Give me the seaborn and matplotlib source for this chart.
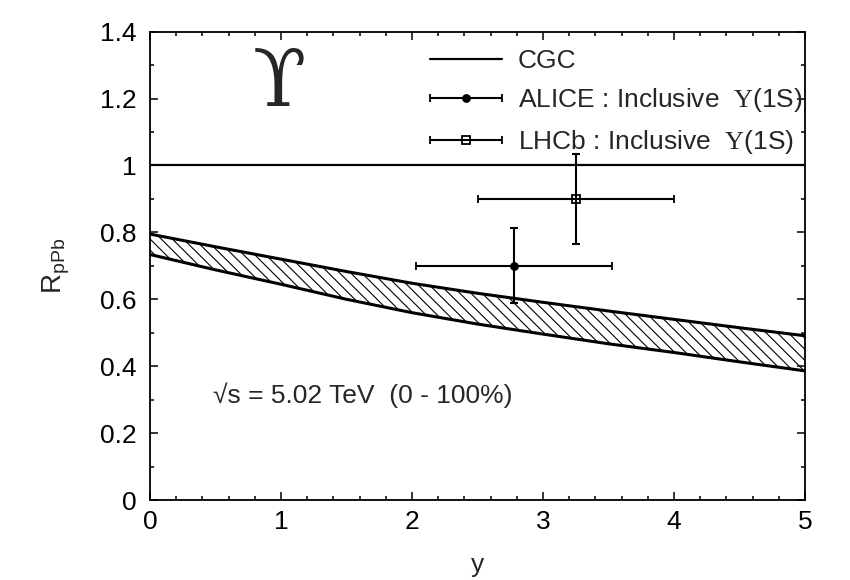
import numpy as np
import pandas as pd
import matplotlib
matplotlib.use("Agg")
import matplotlib.pyplot as plt
import seaborn as sns
from matplotlib.ticker import MultipleLocator, FuncFormatter
from matplotlib.container import ErrorbarContainer
from matplotlib.legend_handler import HandlerErrorbar

# ---------------- data ----------------
band_x = [0.0, 0.5, 1.0, 1.5, 2.0, 2.5, 3.0, 3.5, 4.0, 4.5, 5.0]
band_upper = [0.795, 0.757, 0.720, 0.683, 0.648, 0.618, 0.591, 0.565, 0.540, 0.515, 0.491]
band_lower = [0.734, 0.688, 0.645, 0.600, 0.560, 0.526, 0.496, 0.467, 0.441, 0.413, 0.386]

cgc_x = [0.0, 5.0]
cgc_r = [1.0, 1.0]

alice_y = [2.78]
alice_r = [0.70]
alice_xlo = [2.03]
alice_xhi = [3.53]
alice_err = [0.112]

lhcb_y = [3.25]
lhcb_r = [0.90]
lhcb_xlo = [2.50]
lhcb_xhi = [4.00]
lhcb_err = [0.134]

x_ticks = [0, 1, 2, 3, 4, 5]
y_ticks = [0, 0.2, 0.4, 0.6, 0.8, 1.0, 1.2, 1.4]

# ---------------- style ----------------
sns.set_style("ticks")
plt.rcParams["font.family"] = ["Liberation Sans", "DejaVu Sans"]
plt.rcParams["mathtext.fontset"] = "custom"
plt.rcParams["mathtext.rm"] = "Liberation Serif"
plt.rcParams["mathtext.sf"] = "Liberation Sans"
plt.rcParams["mathtext.it"] = "Liberation Sans:italic"
plt.rcParams["hatch.linewidth"] = 0.8

FS = 19

fig = plt.figure(figsize=(8.5, 5.8), dpi=100)
ax = fig.add_axes([150 / 850, 1 - 500 / 580, 655 / 850, (500 - 31.7) / 580])

df = pd.DataFrame({"y": band_x, "upper": band_upper, "lower": band_lower})

# hatched band
ax.fill_between(df["y"], df["lower"], df["upper"], facecolor="none",
                edgecolor="black", hatch="\\\\\\", linewidth=0)
sns.lineplot(data=df, x="y", y="upper", ax=ax, color="black", lw=2.2)
sns.lineplot(data=df, x="y", y="lower", ax=ax, color="black", lw=2.2)

# CGC line
cgc_line, = ax.plot(cgc_x, cgc_r, color="black", lw=1.6, label="CGC")

# data points
def draw_point(xs, rs, xlo, xhi, err, marker, mfc, ms, label):
    xs = np.array(xs); rs = np.array(rs)
    xerr = np.array([xs - np.array(xlo), np.array(xhi) - xs])
    ax.errorbar(xs, rs, yerr=np.array(err), fmt="none", ecolor="black",
                elinewidth=1.5, capsize=3.2, capthick=1.5)
    c = ax.errorbar(xs, rs, xerr=xerr, fmt=marker, color="black", mfc=mfc,
                    mec="black", ms=ms, mew=1.3, ecolor="black",
                    elinewidth=1.5, capsize=3.2, capthick=1.5, label=label)
    return c

c_alice = draw_point(alice_y, alice_r, alice_xlo, alice_xhi, alice_err,
                     "o", "black", 5, r"ALICE : Inclusive  $\Upsilon$(1S)")
c_lhcb = draw_point(lhcb_y, lhcb_r, lhcb_xlo, lhcb_xhi, lhcb_err,
                    "s", "none", 5.5, r"LHCb : Inclusive  $\Upsilon$(1S)")

# axes
ax.set_xlim(0, 5)
ax.set_ylim(0, 1.4)
ax.set_xticks(x_ticks)
ax.set_yticks(y_ticks)
ax.xaxis.set_minor_locator(MultipleLocator(0.2))
ax.yaxis.set_minor_locator(MultipleLocator(0.1))
ax.yaxis.set_major_formatter(FuncFormatter(lambda v, p: "%g" % v))
ax.xaxis.set_major_formatter(FuncFormatter(lambda v, p: "%g" % v))
ax.tick_params(which="both", direction="in", top=True, right=True,
               color="black", width=1.1, labelsize=FS, labelcolor="black")
ax.tick_params(which="major", length=6)
ax.tick_params(which="minor", length=3.2)
ax.tick_params(axis="y", pad=9.5)
ax.tick_params(axis="x", pad=7)
for s in ax.spines.values():
    s.set_linewidth(1.3)
    s.set_color("black")

ax.set_xlabel("y", fontsize=FS, labelpad=14)
ax.set_ylabel(r"R$_{\mathsf{pPb}}$", fontsize=FS + 1, labelpad=20)

# annotations
ax.text(0.198, 0.888, "\u03d2", transform=ax.transAxes, ha="center",
        va="center", fontsize=56, family=["DejaVu Serif"])
ax.text(0.096, 0.224, "\u221as = 5.02 TeV  (0 - 100%)", transform=ax.transAxes,
        ha="left", va="center", fontsize=FS)

# legend
hl = 2.73
leg = ax.legend(handles=[cgc_line, c_alice, c_lhcb],
                loc="upper left", bbox_to_anchor=(0.4275, 0.963),
                frameon=False, fontsize=FS, handlelength=hl,
                handletextpad=0.6, labelspacing=0.51, borderpad=0,
                borderaxespad=0, numpoints=1,
                handler_map={ErrorbarContainer: HandlerErrorbar(xerr_size=hl / 2)})

fig.savefig("out.png", dpi=100)
